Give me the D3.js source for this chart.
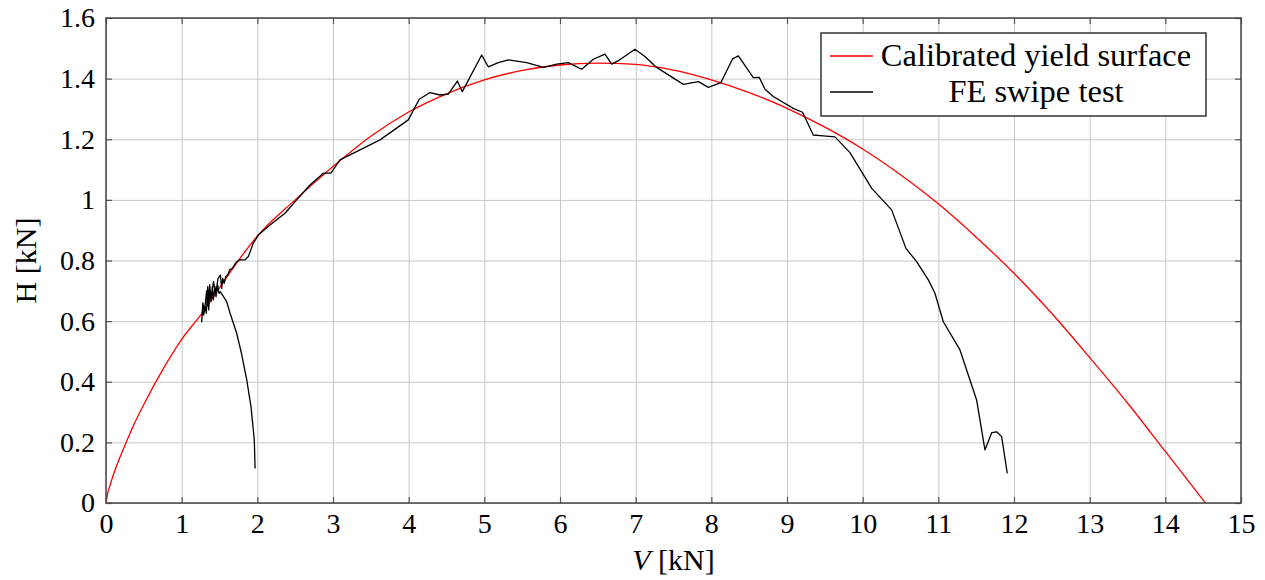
<!DOCTYPE html>
<html>
<head>
<meta charset="utf-8">
<script src="https://cdn.jsdelivr.net/npm/d3@7"></script>
<style>
  body { margin: 0; background: #fff; }
  svg { font-family: "Liberation Serif", "DejaVu Serif", serif; }
  .grid line { stroke: #c8c8c8; stroke-width: 1; }
  .grid path { display: none; }
  .tick-in line { stroke: #555; stroke-width: 1.2; }
  .tick-in path { display: none; }
  .tick-in text { fill: #000; }
</style>
</head>
<body>
<svg id="chart"></svg>
<script>
const MARGINS = { left: 106, top: 18, right: 24, bottom: 77 };
const WIDTH = 1265;
const HEIGHT = 580;

const xTicks = [0, 1, 2, 3, 4, 5, 6, 7, 8, 9, 10, 11, 12, 13, 14, 15];
const yTicks = [0, 0.2, 0.4, 0.6, 0.8, 1, 1.2, 1.4, 1.6];
const yTickLabels = ["0", "0.2", "0.4", "0.6", "0.8", "1", "1.2", "1.4", "1.6"];

const seriesNames = ["Calibrated yield surface", "FE swipe test"];
const seriesColors = ["#ff0000", "#000000"];

// calibrated yield surface
const yieldV = [0, 0.02, 0.05, 0.1, 0.175, 0.25, 0.375, 0.5, 0.75, 1, 1.25, 1.5, 1.75, 2, 2.5, 3, 3.5, 4, 4.5, 5, 5.5,
  6, 6.5, 7, 7.5, 8, 8.5, 9, 9.5, 10, 10.5, 11, 11.5, 12, 12.5, 13, 13.5, 14, 14.53];
const yieldH = [0, 0.03, 0.056, 0.095, 0.145, 0.19, 0.262, 0.325, 0.44, 0.54, 0.62, 0.71, 0.80, 0.88, 1.0, 1.11, 1.21, 1.29, 1.35, 1.396, 1.427,
  1.445, 1.451, 1.447, 1.428, 1.396, 1.354, 1.302, 1.24, 1.168, 1.083, 0.987, 0.877, 0.758, 0.625, 0.48, 0.33, 0.17, 0];

// FE swipe test path
const sweepV = [1.97, 1.96, 1.916, 1.86, 1.79, 1.727, 1.64, 1.595, 1.51,
  1.493, 1.476, 1.454, 1.44, 1.418, 1.405, 1.388, 1.374, 1.357, 1.344, 1.326, 1.308, 1.291, 1.273, 1.265,
  1.28, 1.30, 1.33, 1.35, 1.37, 1.39, 1.42, 1.45, 1.48, 1.511, 1.529, 1.542, 1.563, 1.582, 1.608, 1.634,
  1.669, 1.696, 1.727, 1.771, 1.837, 1.881, 1.947, 2.013, 2.167, 2.366, 2.52, 2.696, 2.872, 2.973, 3.092,
  3.621, 3.995, 4.14, 4.282, 4.414, 4.524, 4.643, 4.709, 4.965, 5.052, 5.185, 5.317, 5.56, 5.78, 5.956,
  6.11, 6.287, 6.44, 6.594, 6.683, 6.79, 6.99, 7.123, 7.277, 7.63, 7.83, 7.96, 8.127, 8.28, 8.357, 8.555,
  8.634, 8.709, 8.819, 9.083, 9.206, 9.347, 9.479, 9.634, 9.832, 10.12, 10.383, 10.572, 10.713, 10.868,
  10.955, 11.066, 11.286, 11.506, 11.616, 11.705, 11.771, 11.837, 11.911];
const sweepH = [0.114, 0.208, 0.318, 0.406, 0.494, 0.56, 0.626, 0.664, 0.697,
  0.692, 0.719, 0.681, 0.714, 0.670, 0.714, 0.664, 0.708, 0.637, 0.714, 0.626, 0.653, 0.620, 0.637, 0.598,
  0.66, 0.63, 0.70, 0.65, 0.72, 0.67, 0.73, 0.69, 0.74, 0.752, 0.708, 0.741, 0.725, 0.747, 0.752, 0.769,
  0.774, 0.785, 0.796, 0.802, 0.802, 0.813, 0.857, 0.884, 0.917, 0.956, 1.0, 1.049, 1.088, 1.088, 1.132,
  1.198, 1.264, 1.332, 1.354, 1.346, 1.349, 1.392, 1.357, 1.478, 1.439, 1.453, 1.462, 1.453, 1.437, 1.448,
  1.453, 1.431, 1.464, 1.481, 1.448, 1.462, 1.497, 1.473, 1.437, 1.381, 1.39, 1.371, 1.387, 1.465, 1.475, 1.403,
  1.404, 1.365, 1.341, 1.302, 1.289, 1.214, 1.211, 1.208, 1.156, 1.038, 0.967, 0.840, 0.796, 0.736,
  0.692, 0.598, 0.505, 0.340, 0.175, 0.232, 0.235, 0.219, 0.098];

const svg = d3.select("#chart").attr("width", WIDTH).attr("height", HEIGHT);

const x = d3.scaleLinear().domain([0, 15]).range([MARGINS.left, WIDTH - MARGINS.right]);
const y = d3.scaleLinear().domain([0, 1.6]).range([HEIGHT - MARGINS.bottom, MARGINS.top]);

const plotW = WIDTH - MARGINS.left - MARGINS.right;
const plotH = HEIGHT - MARGINS.top - MARGINS.bottom;

// grid
svg.append("g")
  .attr("class", "grid")
  .attr("transform", `translate(0, ${HEIGHT - MARGINS.bottom})`)
  .call(d3.axisBottom(x).tickValues(xTicks).tickSize(-plotH).tickFormat(""));
svg.append("g")
  .attr("class", "grid")
  .attr("transform", `translate(${MARGINS.left}, 0)`)
  .call(d3.axisLeft(y).tickValues(yTicks).tickSize(-plotW).tickFormat(""));

// inward ticks on all four sides
svg.append("g")
  .attr("class", "tick-in")
  .attr("transform", `translate(0, ${HEIGHT - MARGINS.bottom})`)
  .call(d3.axisBottom(x).tickValues(xTicks).tickSize(-6).tickPadding(10).tickFormat(d3.format("d")))
  .attr("font-family", null)
  .attr("font-size", 28);
svg.append("g")
  .attr("class", "tick-in")
  .attr("transform", `translate(0, ${MARGINS.top})`)
  .call(d3.axisTop(x).tickValues(xTicks).tickSize(-6).tickFormat(""));
svg.append("g")
  .attr("class", "tick-in")
  .attr("transform", `translate(${MARGINS.left}, 0)`)
  .call(d3.axisLeft(y).tickValues(yTicks).tickSize(-6).tickPadding(11)
    .tickFormat((d, i) => yTickLabels[i]))
  .attr("font-family", null)
  .attr("font-size", 28);
svg.append("g")
  .attr("class", "tick-in")
  .attr("transform", `translate(${WIDTH - MARGINS.right}, 0)`)
  .call(d3.axisRight(y).tickValues(yTicks).tickSize(-6).tickFormat(""));

const clip = svg.append("clipPath").attr("id", "plot-clip")
  .append("rect")
  .attr("x", MARGINS.left).attr("y", MARGINS.top)
  .attr("width", plotW).attr("height", plotH);

const lines = svg.append("g").attr("clip-path", "url(#plot-clip)");

lines.append("path")
  .datum(yieldV.map((v, i) => [v, yieldH[i]]))
  .attr("fill", "none")
  .attr("stroke", seriesColors[0])
  .attr("stroke-width", 1.3)
  .attr("d", d3.line().curve(d3.curveMonotoneX).x((d) => x(d[0])).y((d) => y(d[1])));

lines.append("path")
  .datum(sweepV.map((v, i) => [v, sweepH[i]]))
  .attr("fill", "none")
  .attr("stroke", seriesColors[1])
  .attr("stroke-width", 1.3)
  .attr("stroke-linejoin", "round")
  .attr("d", d3.line().x((d) => x(d[0])).y((d) => y(d[1])));

// frame
svg.append("rect")
  .attr("x", MARGINS.left).attr("y", MARGINS.top)
  .attr("width", plotW).attr("height", plotH)
  .attr("fill", "none")
  .attr("stroke", "#444")
  .attr("stroke-width", 1.5);

// axis labels
const xLabel = svg.append("text")
  .attr("x", x(7.5))
  .attr("y", HEIGHT - 10)
  .attr("font-size", 30)
  .attr("text-anchor", "middle");
xLabel.append("tspan").attr("font-style", "italic").text("V");
xLabel.append("tspan").text(" [kN]");

svg.append("text")
  .attr("transform", `translate(36, ${y(0.8)}) rotate(-90)`)
  .attr("font-size", 30)
  .attr("text-anchor", "middle")
  .text("H [kN]");

// legend
const legend = svg.append("g").attr("class", "legend");
legend.append("rect")
  .attr("x", 821).attr("y", 33)
  .attr("width", 385).attr("height", 83)
  .attr("fill", "#fff")
  .attr("stroke", "#333")
  .attr("stroke-width", 1.5);

seriesNames.forEach((name, i) => {
  legend.append("line")
    .attr("x1", 830).attr("x2", 873)
    .attr("y1", 56 + i * 36).attr("y2", 56 + i * 36)
    .attr("stroke", seriesColors[i])
    .attr("stroke-width", 1.3);
  legend.append("text")
    .attr("x", 1036)
    .attr("y", 66 + i * 36)
    .attr("font-size", 32.5)
    .attr("text-anchor", "middle")
    .text(name);
});
</script>
</body>
</html>
